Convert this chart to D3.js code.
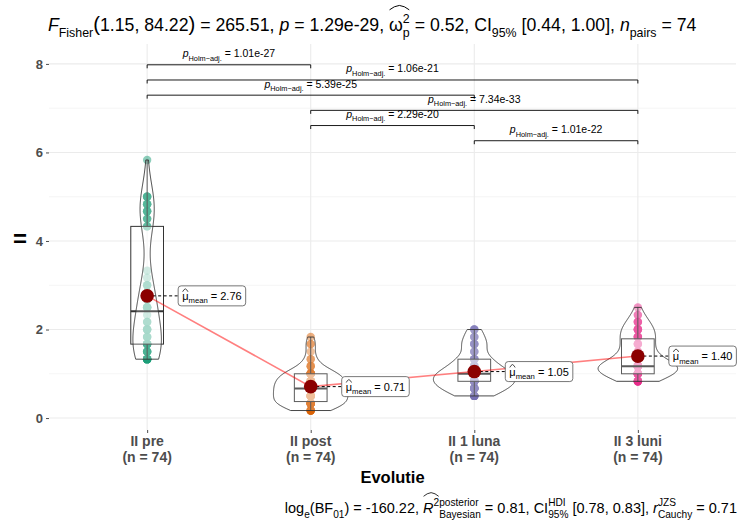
<!DOCTYPE html>
<html>
<head>
<meta charset="utf-8">
<script src="https://cdn.jsdelivr.net/npm/d3@7"></script>
<style>
  body { margin: 0; background: #fff; }
  svg { display: block; }
  text { font-family: "Liberation Sans", Arial, Helvetica, sans-serif; }
</style>
</head>
<body>
<svg id="chart" width="739" height="523"></svg>
<script>
// ---- data ----
const groups = ["II pre", "II post", "II 1 luna", "II 3 luni"];
const groupN = [74, 74, 74, 74];
const groupColors = ["#1B9E77", "#D95F02", "#7570B3", "#E7298A"];

// scores per time point, written as [value, number of participants]
const scoresPre = [[1.33, 9], [1.5, 6], [1.67, 9], [1.83, 4], [2.0, 5], [2.17, 3], [2.33, 1], [2.5, 6],
  [2.67, 3], [2.83, 3], [3.0, 3], [3.17, 1], [3.33, 1], [4.33, 3], [4.5, 3], [4.67, 4], [4.83, 4], [5.0, 5], [5.83, 1]];
const scoresPost = [[0.17, 6], [0.33, 13], [0.5, 12], [0.67, 12], [0.83, 11], [1.0, 11], [1.17, 3],
  [1.33, 2], [1.5, 1], [1.67, 2], [1.83, 1]];
const scoresLuna = [[0.5, 7], [0.67, 11], [0.83, 14], [1.0, 14], [1.17, 8], [1.33, 6], [1.5, 3],
  [1.67, 5], [1.83, 3], [2.0, 3]];
const scoresLuni = [[0.83, 7], [1.0, 13], [1.17, 18], [1.33, 6], [1.5, 6], [1.67, 5], [1.83, 6],
  [2.0, 6], [2.17, 4], [2.33, 2], [2.5, 1]];

const groupMeans = [2.76, 0.71, 1.05, 1.40];
const meanLabels = ["2.76", "0.71", "1.05", "1.40"];

const yTicks = [0, 2, 4, 6, 8];
const yMinorTicks = [1, 3, 5, 7];

// pairwise comparisons (Holm-adjusted p-values), listed from top bracket down
const pairFrom = ["II pre", "II pre", "II pre", "II post", "II post", "II 1 luna"];
const pairTo = ["II post", "II 3 luni", "II 1 luna", "II 3 luni", "II 1 luna", "II 3 luni"];
const pairP = ["1.01e-27", "1.06e-21", "5.39e-25", "7.34e-33", "2.29e-20", "1.01e-22"];

// ---- layout ----
const svg = d3.select("#chart");
const panel = { left: 49, right: 736, top: 44, bottom: 430 };

const x = d3.scalePoint().domain(groups).range([panel.left, panel.right]).padding(0.6);
const y = d3.scaleLinear().domain([-0.27, 8.45]).range([panel.bottom, panel.top]);
const step = x.step();

const groupValues = [scoresPre, scoresPost, scoresLuna, scoresLuni]
  .map(list => list.flatMap(([v, n]) => d3.range(n).map(() => v)).sort(d3.ascending));

// ---- rich text helper: sub/superscripts, stacks and wide hats ----
function richText(parent, parts, base, opts = {}) {
  const g = parent.append("g");
  let cx = 0;
  const hats = {};
  parts.forEach(p => {
    const items = p.stack ? p.stack : [p];
    let adv = 0;
    items.forEach(it => {
      const scale = it.sub || it.sup ? 0.7 : (it.scale || 1);
      const dy = it.sub ? 0.32 : it.sup ? -0.45 : 0;
      const t = g.append("text")
        .attr("x", cx).attr("y", dy * base)
        .attr("font-size", scale * base)
        .attr("font-style", it.it ? "italic" : null)
        .attr("font-weight", opts.bold ? "bold" : null)
        .attr("fill", opts.color || "#000")
        .style("white-space", "pre")
        .text(it.t);
      adv = Math.max(adv, t.node().getComputedTextLength());
    });
    if (p.hat) {
      const h = hats[p.hat] || (hats[p.hat] = { x0: cx, x1: cx, lift: p.hatLift || 1 });
      h.x1 = cx + adv;
      if (p.hatLift) h.lift = Math.max(h.lift, p.hatLift);
    }
    cx += adv;
  });
  Object.values(hats).forEach(h => {
    const yb = -h.lift * base * 0.92, yt = yb - base * 0.22;
    const xm = (h.x0 + h.x1) / 2;
    g.append("path")
      .attr("d", `M${h.x0 + 0.5},${yb} Q${(h.x0 + xm) / 2},${yt} ${xm},${yt - 0.5} Q${(xm + h.x1) / 2},${yt} ${h.x1 - 0.5},${yb}`)
      .attr("fill", "none").attr("stroke", opts.color || "#000")
      .attr("stroke-width", Math.max(0.7, base / 18));
  });
  return { g, width: cx };
}

// ---- grid ----
const grid = svg.append("g");
grid.selectAll("line.minor").data(yMinorTicks).join("line")
  .attr("x1", panel.left).attr("x2", panel.right)
  .attr("y1", d => y(d)).attr("y2", d => y(d))
  .attr("stroke", "#F2F2F2").attr("stroke-width", 0.8);
grid.selectAll("line.major").data(yTicks).join("line")
  .attr("x1", panel.left).attr("x2", panel.right)
  .attr("y1", d => y(d)).attr("y2", d => y(d))
  .attr("stroke", "#EBEBEB").attr("stroke-width", 1.1);
grid.selectAll("line.vert").data(groups).join("line")
  .attr("x1", d => x(d)).attr("x2", d => x(d))
  .attr("y1", panel.top).attr("y2", panel.bottom)
  .attr("stroke", "#EBEBEB").attr("stroke-width", 1.1);

// ---- axes ----
const yAxis = svg.append("g")
  .attr("transform", `translate(${panel.left},0)`)
  .call(d3.axisLeft(y).tickValues(yTicks).tickSize(3).tickPadding(3));
yAxis.select(".domain").remove();
yAxis.selectAll(".tick line").attr("stroke", "#4D4D4D");
yAxis.selectAll(".tick text")
  .attr("font-size", 13).attr("font-weight", "bold").attr("fill", "#4D4D4D")
  .attr("font-family", "Liberation Sans, Arial, sans-serif");

const xAxis = svg.append("g")
  .attr("transform", `translate(0,${panel.bottom})`)
  .call(d3.axisBottom(x).tickSize(3).tickFormat(""));
xAxis.select(".domain").remove();
xAxis.selectAll(".tick line").attr("stroke", "#4D4D4D");
const xl = svg.append("g").selectAll("text").data(groups).join("text")
  .attr("x", d => x(d)).attr("y", 446)
  .attr("text-anchor", "middle").attr("font-size", 14).attr("font-weight", "bold").attr("fill", "#4D4D4D");
xl.append("tspan").attr("x", d => x(d)).text(d => d);
xl.append("tspan").attr("x", d => x(d)).attr("dy", 15.5).text((d, i) => `(n = ${groupN[i]})`);

svg.append("text").attr("x", (panel.left + panel.right) / 2).attr("y", 483)
  .attr("text-anchor", "middle").attr("font-size", 16.5).attr("font-weight", "bold").text("Evolutie");

svg.append("text").attr("x", 20).attr("y", 247)
  .attr("text-anchor", "middle").attr("font-size", 24).attr("font-weight", "bold").text("=");

// ---- raw points ----
const pts = svg.append("g");
groupValues.forEach((vals, gi) => {
  pts.selectAll(null).data(vals).join("circle")
    .attr("cx", x(groups[gi])).attr("cy", d => y(d)).attr("r", 4.2)
    .attr("fill", groupColors[gi]).attr("fill-opacity", 0.5);
});

// ---- boxplots ----
const boxW = 0.2 * step;
const boxes = svg.append("g");
groupValues.forEach((vals, gi) => {
  const cx = x(groups[gi]);
  const q1 = d3.quantile(vals, 0.25), med = d3.quantile(vals, 0.5), q3 = d3.quantile(vals, 0.75);
  const iqr = q3 - q1;
  const lo = d3.min(vals.filter(v => v >= q1 - 1.5 * iqr));
  const hi = d3.max(vals.filter(v => v <= q3 + 1.5 * iqr));
  boxes.append("line").attr("x1", cx).attr("x2", cx).attr("y1", y(q3)).attr("y2", y(hi))
    .attr("stroke", "#333").attr("stroke-width", 1);
  boxes.append("line").attr("x1", cx).attr("x2", cx).attr("y1", y(q1)).attr("y2", y(lo))
    .attr("stroke", "#333").attr("stroke-width", 1);
  boxes.append("rect").attr("x", cx - boxW / 2).attr("width", boxW)
    .attr("y", y(q3)).attr("height", y(q1) - y(q3))
    .attr("fill", "#fff").attr("fill-opacity", 0.5).attr("stroke", "#333").attr("stroke-width", 1);
  boxes.append("line").attr("x1", cx - boxW / 2).attr("x2", cx + boxW / 2)
    .attr("y1", y(med)).attr("y2", y(med)).attr("stroke", "#333").attr("stroke-width", 2);
});

// ---- violins (gaussian KDE, bw.nrd0, trimmed, area-scaled) ----
function kde(vals, pts) {
  const n = vals.length;
  const sd = d3.deviation(vals);
  const iqr = d3.quantile(vals, 0.75) - d3.quantile(vals, 0.25);
  const bw = 0.9 * Math.min(sd, iqr / 1.34) * Math.pow(n, -0.2);
  return pts.map(t => [t, d3.sum(vals, v => Math.exp(-0.5 * ((t - v) / bw) ** 2)) / (n * bw * Math.sqrt(2 * Math.PI))]);
}
const dens = groupValues.map(vals => {
  const lo = d3.min(vals), hi = d3.max(vals);
  return kde(vals, d3.range(0, 201).map(i => lo + (hi - lo) * i / 200));
});
const maxDens = d3.max(dens, d => d3.max(d, e => e[1]));
const vw = d3.scaleLinear().domain([0, maxDens]).range([0, 0.25 * step]);
const vio = svg.append("g");
dens.forEach((d, gi) => {
  const cx = x(groups[gi]);
  const right = d.map(([t, v]) => [cx + vw(v), y(t)]);
  const left = d.slice().reverse().map(([t, v]) => [cx - vw(v), y(t)]);
  vio.append("path").attr("d", d3.line()(right.concat(left)) + "Z")
    .attr("fill", "#fff").attr("fill-opacity", 0.2)
    .attr("stroke", "#333").attr("stroke-width", 0.9);
});

// ---- mean path and mean points ----
svg.append("path")
  .attr("d", d3.line()(groups.map((g, i) => [x(g), y(groupMeans[i])])))
  .attr("fill", "none").attr("stroke", "red").attr("stroke-opacity", 0.5).attr("stroke-width", 1.6);

const lab = svg.append("g");
groups.forEach((g, i) => {
  const cx = x(g), cy = y(groupMeans[i]);
  lab.append("line").attr("x1", cx).attr("x2", cx + 31).attr("y1", cy).attr("y2", cy)
    .attr("stroke", "#000").attr("stroke-width", 1).attr("stroke-dasharray", "3,2.5");
});
svg.append("g").selectAll("circle").data(groups).join("circle")
  .attr("cx", d => x(d)).attr("cy", (d, i) => y(groupMeans[i])).attr("r", 6.8)
  .attr("fill", "#8B0000");

groups.forEach((g, i) => {
  const cx = x(g) + 31, cy = y(groupMeans[i]);
  const box = lab.append("g");
  const rect = box.append("rect");
  const rt = richText(box, [
    { t: "μ", hat: 1, hatLift: 0.8 },
    { t: "mean", sub: true },
    { t: " = " + meanLabels[i] }
  ], 11);
  rt.g.attr("transform", `translate(${cx + 4},${cy + 4})`);
  rect.attr("x", cx).attr("y", cy - 10).attr("width", rt.width + 8).attr("height", 20)
    .attr("rx", 3).attr("fill", "#fff").attr("stroke", "#555").attr("stroke-width", 0.8);
});

// ---- significance brackets ----
const bracketTop = 7.98, bracketStep = 0.343;
const br = svg.append("g");
pairP.forEach((p, i) => {
  const x0 = x(pairFrom[i]), x1 = x(pairTo[i]);
  const yy = y(bracketTop - i * bracketStep);
  br.append("path").attr("d", `M${x0},${yy + 3.5} L${x0},${yy} L${x1},${yy} L${x1},${yy + 3.5}`)
    .attr("fill", "none").attr("stroke", "#000").attr("stroke-width", 0.9);
  const rt = richText(br, [
    { t: "p", it: true },
    { t: "Holm−adj.", sub: true },
    { t: " = " + p }
  ], 10.5);
  rt.g.attr("transform", `translate(${(x0 + x1) / 2 - rt.width / 2},${yy - 7.5})`);
});

// ---- statistical subtitle (top) ----
const title = richText(svg, [
  { t: "F", it: true },
  { t: "Fisher", sub: true },
  { t: "(", scale: 1.15 },
  { t: "1.15, 84.22" },
  { t: ")", scale: 1.15 },
  { t: " = 265.51, " },
  { t: "p", it: true },
  { t: " = 1.29e-29, " },
  { t: "ω", hat: 1, hatLift: 1.3 },
  { stack: [{ t: "2", sup: true }, { t: "p", sub: true }], hat: 1 },
  { t: " = 0.52, CI" },
  { t: "95%", sub: true },
  { t: " [0.44, 1.00], " },
  { t: "n", it: true },
  { t: "pairs", sub: true },
  { t: " = 74" }
], 17.7);
title.g.attr("transform", `translate(${panel.left - 1},31)`);

// ---- Bayesian caption (bottom) ----
const cap = richText(svg, [
  { t: "log" },
  { t: "e", sub: true },
  { t: "(BF" },
  { t: "01", sub: true },
  { t: ") = -160.22, " },
  { t: "R", it: true, hat: 1, hatLift: 1.25 },
  { t: "2", sup: true, hat: 1 },
  { stack: [{ t: "posterior", sup: true }, { t: "Bayesian", sub: true }] },
  { t: " = 0.81, CI" },
  { stack: [{ t: "HDI", sup: true }, { t: "95%", sub: true }] },
  { t: " [0.78, 0.83], " },
  { t: "r", it: true },
  { stack: [{ t: "JZS", sup: true }, { t: "Cauchy", sub: true }] },
  { t: " = 0.71" }
], 14.5);
cap.g.attr("transform", `translate(${737 - cap.width},513)`);
</script>
</body>
</html>
